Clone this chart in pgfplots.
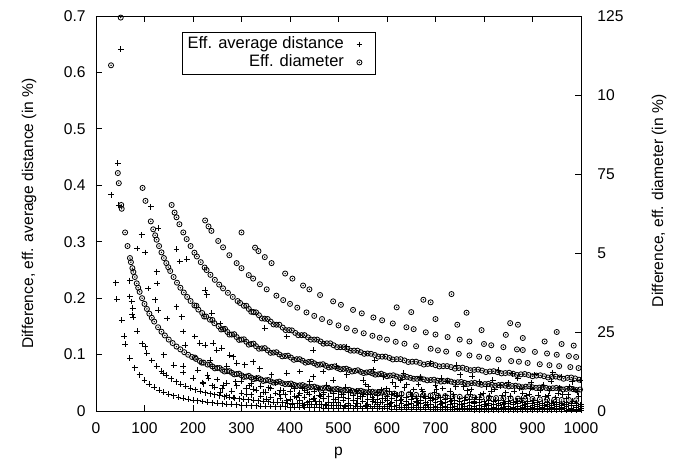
\documentclass[border=0pt]{standalone}
\usepackage{fontspec}
\setmainfont{Liberation Sans}
\usepackage{pgfplots}
\pgfplotsset{compat=1.18}
\pgfdeclareplotmark{odotmark}{%
  \pgfpathcircle{\pgfpointorigin}{\pgfplotmarksize}\pgfusepathqstroke
  \pgfpathcircle{\pgfpointorigin}{0.3\pgfplotmarksize}\pgfusepathqfill}
\pgfplotsset{
  plusstyle/.style={only marks, mark=+, mark size=1.95pt, line width=0.6pt, black},
  circstyle/.style={only marks, mark=odotmark, mark size=1.7pt, line width=0.55pt, black},
}
\begin{document}
\fontsize{10.4pt}{12.5pt}\selectfont
\begin{tikzpicture}
\useasboundingbox (-64pt,-36.67pt) rectangle (396.67pt,274pt);
\begin{axis}[
  scale only axis, width=323.33pt, height=263.33pt,
  xmin=0, xmax=1000, ymin=0, ymax=0.7,
  xtick={0,100,200,300,400,500,600,700,800,900,1000},
  ytick={0,0.1,0.2,0.3,0.4,0.5,0.6,0.7},
  xtick pos=both, ytick pos=left,
  tick align=inside, major tick length=4pt,
  /pgf/number format/1000 sep={}, /pgf/number format/assume math mode=true,
  axis line style={line width=0.6pt}, tick style={line width=0.6pt, black},
  clip=false,
  xlabel={p}, ylabel={Difference, eff. average distance (in \%)},
  every axis y label/.style={at={(axis description cs:-0.138,0.5)}, rotate=90, anchor=center},
  every axis x label/.style={at={(axis description cs:0.5,0)}, anchor=base, yshift=-29.9pt},
  yticklabel style={xshift=-3.3pt}, xticklabel style={yshift=-3.8pt},
]
% Eff. average distance (left axis)
\addplot[plusstyle] coordinates {
(60,0.1184)(70,0.0939)(80,0.0769)(90,0.0644)(100,0.055)(110,0.0477)(120,0.0419)(130,0.0371)(140,0.0332)(150,0.0299)(160,0.0272)(170,0.0248)(180,0.0228)(190,0.0210)(200,0.0195)(210,0.0181)(220,0.0168)(230,0.0158)(240,0.0148)(250,0.0139)(260,0.0131)(270,0.0124)(280,0.0117)(290,0.0111)(300,0.0106)(310,0.0101)(320,0.0096)(330,0.0092)(340,0.0088)(350,0.0084)(360,0.0080)(370,0.0078)(380,0.0074)(390,0.0072)(400,0.0069)(410,0.0066)(420,0.0064)(430,0.0062)(440,0.0059)(450,0.0058)(460,0.0056)(470,0.0054)(480,0.0052)(490,0.0051)(500,0.0049)(510,0.0048)(520,0.0046)(530,0.0045)(540,0.0044)(550,0.0043)(560,0.0041)(570,0.0040)(580,0.0040)(590,0.0039)(600,0.0037)(610,0.0036)(620,0.0036)(630,0.0035)(640,0.0034)(650,0.0033)(660,0.0032)(670,0.0032)(680,0.0031)(690,0.0030)(700,0.0030)(710,0.0029)(720,0.0029)(730,0.0028)(740,0.0028)(750,0.0027)(760,0.0026)(770,0.0026)(780,0.0025)(790,0.0025)(800,0.0024)(810,0.0024)(820,0.0024)(830,0.0023)(840,0.0023)(850,0.0022)(860,0.0022)(870,0.0021)(880,0.0021)(890,0.0021)(900,0.0020)(910,0.0020)(920,0.0020)(930,0.0019)(940,0.0019)(950,0.0019)(960,0.0019)(970,0.0018)(980,0.0018)(990,0.0018)(1000,0.0018)
(75,0.1708)(85,0.1413)(95,0.1194)(105,0.1027)(115,0.0895)(125,0.0790)(135,0.0703)(145,0.0631)(155,0.0571)(165,0.0520)(175,0.0476)(185,0.0438)(195,0.0405)(205,0.0376)(215,0.0349)(225,0.0326)(235,0.0306)(245,0.0287)(255,0.0271)(265,0.0255)(275,0.0241)(285,0.0228)(295,0.0217)(305,0.0206)(315,0.0197)(325,0.0188)(335,0.0180)(345,0.0172)(355,0.0164)(365,0.0158)(375,0.0152)(385,0.0146)(395,0.0140)(405,0.0135)(415,0.0130)(425,0.0125)(435,0.0121)(445,0.0117)(455,0.0113)(465,0.0109)(475,0.0106)(485,0.0103)(495,0.0100)(505,0.0097)(515,0.0094)(525,0.0091)(535,0.0089)(545,0.0087)(555,0.0084)(565,0.0081)(575,0.0080)(585,0.0078)(595,0.0076)(605,0.0074)(615,0.0072)(625,0.0070)(635,0.0069)(645,0.0067)(655,0.0065)(665,0.0064)(675,0.0063)(685,0.0061)(695,0.0060)(705,0.0059)(715,0.0058)(725,0.0057)(735,0.0056)(745,0.0054)(755,0.0053)(765,0.0052)(775,0.0051)(785,0.0050)(795,0.0049)(805,0.0048)(815,0.0047)(825,0.0047)(835,0.0046)(845,0.0045)(855,0.0044)(865,0.0043)(875,0.0042)(885,0.0042)(895,0.0041)(905,0.0040)(915,0.0040)(925,0.0039)(935,0.0039)(945,0.0038)(955,0.0037)(965,0.0037)(975,0.0036)(985,0.0036)(995,0.0035)
(140,0.0997)(160,0.0815)(180,0.0683)(200,0.0584)(220,0.0505)(240,0.0444)(260,0.0394)(280,0.0351)(300,0.0317)(320,0.0289)(340,0.0264)(360,0.0241)(380,0.0223)(400,0.0206)(420,0.0191)(440,0.0178)(460,0.0167)(480,0.0157)(500,0.0147)(520,0.0139)(540,0.0132)(560,0.0124)(580,0.0119)(600,0.0112)(620,0.0107)(640,0.0102)(660,0.0097)(680,0.0092)(700,0.0089)(720,0.0086)(740,0.0083)(760,0.0079)(780,0.0076)(800,0.0073)(820,0.0071)(840,0.0068)(860,0.0066)(880,0.0063)(900,0.0061)(920,0.0059)(940,0.0058)(960,0.0056)(980,0.0054)(1000,0.0053)
(210,0.0724)(230,0.0631)(250,0.0557)(270,0.0495)(290,0.0444)(310,0.0403)(330,0.0367)(350,0.0337)(370,0.0310)(390,0.0286)(410,0.0264)(430,0.0246)(450,0.0231)(470,0.0216)(490,0.0202)(510,0.0191)(530,0.0180)(550,0.0172)(570,0.0161)(590,0.0154)(610,0.0145)(630,0.0139)(650,0.0132)(670,0.0128)(690,0.0121)(710,0.0117)(730,0.0112)(750,0.0108)(770,0.0103)(790,0.0099)(810,0.0095)(830,0.0092)(850,0.0088)(870,0.0086)(890,0.0084)(910,0.0079)(930,0.0077)(950,0.0075)(970,0.0073)(990,0.0070)
(300,0.0528)(320,0.0481)(340,0.0440)(360,0.0402)(380,0.0371)(400,0.0344)(420,0.0319)(440,0.0297)(460,0.0278)(480,0.0261)(500,0.0245)(520,0.0231)(540,0.0220)(560,0.0206)(580,0.0198)(600,0.0187)(620,0.0179)(640,0.0171)(660,0.0162)(680,0.0154)(700,0.0149)(720,0.0143)(740,0.0138)(760,0.0132)(780,0.0127)(800,0.0121)(820,0.0118)(840,0.0113)(860,0.0110)(880,0.0105)(900,0.0102)(920,0.0099)(940,0.0096)(960,0.0094)(980,0.0091)(1000,0.0088)
(410,0.0396)(430,0.0370)(450,0.0347)(470,0.0323)(490,0.0304)(510,0.0287)(530,0.0271)(550,0.0257)(570,0.0241)(590,0.0231)(610,0.0218)(630,0.0208)(650,0.0198)(670,0.0191)(690,0.0182)(710,0.0175)(730,0.0168)(750,0.0162)(770,0.0155)(790,0.0149)(810,0.0142)(830,0.0139)(850,0.0132)(870,0.0129)(890,0.0125)(910,0.0119)(930,0.0116)(950,0.0112)(970,0.0109)(990,0.0106)
(500,0.0343)(520,0.0323)(540,0.0308)(560,0.0289)(580,0.0277)(600,0.0262)(620,0.0250)(640,0.0239)(660,0.0227)(680,0.0216)(700,0.0208)(720,0.0200)(740,0.0193)(760,0.0185)(780,0.0177)(800,0.0169)(820,0.0166)(840,0.0158)(860,0.0154)(880,0.0146)(900,0.0142)(920,0.0139)(940,0.0135)(960,0.0131)(980,0.0127)(1000,0.0123)
(610,0.0290)(630,0.0277)(650,0.0264)(670,0.0255)(690,0.0242)(710,0.0233)(730,0.0224)(750,0.0216)(770,0.0207)(790,0.0198)(810,0.0189)(830,0.0185)(850,0.0176)(870,0.0172)(890,0.0167)(910,0.0158)(930,0.0154)(950,0.0150)(970,0.0145)(990,0.0141)
(31,0.383)(41,0.227)(43,0.198)(45,0.439)(47,0.365)(51,0.641)(53,0.161)(58,0.133)(70,0.203)(70,0.231)(73.5,0.194)(75.6,0.182)(77,0.166)(85,0.288)(94,0.312)(101,0.281)(102,0.114)(108,0.217)(113,0.362)(122,0.197)(125,0.247)(126,0.226)(128.5,0.324)(128.5,0.179)(139,0.067)(147,0.164)(166,0.287)(166,0.185)(173,0.265)(176.6,0.167)(180,0.141)(180,0.079)(183.5,0.117)(187,0.269)(204,0.132)(214,0.12)(221,0.048)(225,0.214)(225,0.117)(228,0.206)(235,0.09)(238.5,0.173)(242,0.12)(245,0.042)(249,0.108)(256,0.155)(256,0.033)(259,0.111)(269.5,0.079)(269.5,0.027)(276,0.099)(283,0.096)(283,0.024)(290,0.085)(307,0.082)(310.6,0.030)(324,0.087)(324,0.039)(338,0.075)(345,0.033)(348,0.147)(352,0.021)(362,0.064)(379,0.030)(393,0.132)(393,0.067)(393,0.018)(414,0.024)(420,0.07)(435,0.015)(448,0.108)(448,0.061)(448,0.021)(468,0.07)(469,0.030)(489,0.055)(490,0.015)(496,0.079)(510,0.024)(517,0.114)(517,0.064)(531,0.018)(551,0.055)(551,0.030)(562,0.043)(572,0.073)(572,0.021)(575,0.09)(586,0.015)(592,0.061)(605,0.035)(612,0.051)(622,0.028)(634,0.067)(641,0.047)(655,0.038)(665,0.047)(678,0.026)(689,0.085)(698,0.033)(700,0.046)(715,0.040)(724,0.053)(738,0.029)(744,0.081)(751,0.064)(758,0.043)(765,0.036)(782,0.024)(790,0.052)(798,0.031)(806,0.043)(822,0.038)(830,0.072)(838,0.027)(850,0.050)(862,0.035)(870,0.058)(878,0.022)(880,0.031)(895,0.040)(905,0.064)(912,0.028)(922,0.046)(935,0.036)(939,0.053)(948,0.024)(953,0.031)(960,0.061)(962,0.030)(977,0.043)(985,0.038)(995,0.026)(998,0.055)
(232,0.058)(262,0.046)(288,0.052)(316,0.045)(331,0.058)(356,0.041)(371,0.050)(386,0.036)(402,0.044)(425,0.040)(441,0.052)(458,0.038)(476,0.046)(499,0.035)(515,0.042)(538,0.036)(556,0.047)(580,0.033)(598,0.040)(618,0.044)(648,0.032)(672,0.038)(706,0.027)(730,0.035)(772,0.030)(812,0.026)(845,0.032)(888,0.027)(926,0.025)(970,0.022)
(405,0.012)(418,0.028)(427,0.009)(436,0.033)(452,0.017)(463,0.026)(474,0.011)(483,0.036)(494,0.020)(506,0.029)(513,0.008)(524,0.033)(536,0.014)(545,0.025)(557,0.010)(566,0.030)(577,0.016)(588,0.038)(596,0.022)(607,0.013)(616,0.031)(627,0.019)(636,0.041)(644,0.011)(653,0.026)(662,0.016)(674,0.034)(683,0.012)(693,0.022)(702,0.039)(713,0.014)(721,0.027)(733,0.018)(742,0.043)(753,0.011)(762,0.024)(774,0.038)(781,0.015)(793,0.029)(803,0.012)(815,0.035)(824,0.019)(833,0.045)(843,0.013)(854,0.026)(866,0.017)(874,0.040)(884,0.012)(893,0.030)(903,0.018)(916,0.037)(924,0.010)(933,0.027)(944,0.015)(956,0.041)(966,0.012)(974,0.029)(983,0.017)(992,0.034)(999,0.011)
(628,0.055)(668,0.060)(712,0.058)(776,0.062)(818,0.055)(858,0.066)(897,0.050)(942,0.068)(982,0.052)
};
\end{axis}
\begin{axis}[
  scale only axis, width=323.33pt, height=263.33pt,
  xmin=0, xmax=1000, ymin=0, ymax=12.5,
  axis x line=none, axis y line*=right,
  ytick={0,2.5,5,7.5,10,12.5}, yticklabels={0,25,5,75,10,125},
  tick align=inside, major tick length=4pt,
  axis line style={line width=0.6pt}, tick style={line width=0.6pt, black},
  clip=false,
  ylabel={Difference, eff. diameter (in \%)},
  every axis y label/.style={at={(axis description cs:1.161,0.532)}, rotate=90, anchor=center},
  yticklabel style={xshift=7.3pt},
  legend style={at={(0.1773,0.9595)}, anchor=north west, draw=black, line width=0.6pt,
    font=\fontsize{11pt}{13pt}\selectfont,
    inner sep=2pt, row sep=0pt,
    nodes={inner xsep=1.5pt, inner ysep=1pt, text height=7.7pt, text depth=2.3pt}},
  legend cell align=right, legend plot pos=right,
  legend image code/.code={\path (0cm,0cm) (0.6cm,0cm); \draw[#1] plot coordinates {(0.3cm,0cm)};},
]
\addlegendimage{plusstyle}
\addlegendentry{Eff. average distance}
% Eff. diameter (right axis)
\addplot[circstyle] coordinates {
(31,10.94)(45,7.53)(47,7.21)(52,6.52)(53,6.40)(60,5.65)(65,5.22)(70,4.84)(72,4.71)(75,4.52)(77,4.40)(80,4.24)(84,4.04)(87,3.90)(90,3.77)(95,3.57)(100,3.39)(105,3.23)(110,3.08)(115,2.95)(120,2.83)(128,2.65)(135,2.51)(142,2.39)(150,2.26)(158,2.15)(166,2.04)(174,1.95)(182,1.86)(190,1.78)(198,1.71)(206,1.65)(214,1.58)(222,1.53)(230,1.47)(240,1.41)(250,1.36)(260,1.30)(270,1.26)(280,1.21)(290,1.17)(300,1.13)(310,1.09)(320,1.06)(330,1.03)(340,1.00)(350,0.97)(360,0.94)(372,0.91)(384,0.88)(396,0.86)(408,0.83)(420,0.81)(432,0.78)(444,0.76)(456,0.74)(468,0.72)(480,0.71)(492,0.69)(504,0.67)(516,0.66)(528,0.64)(540,0.63)(552,0.61)(564,0.60)(576,0.59)(588,0.58)(600,0.565)(615,0.55)(630,0.54)(645,0.53)(660,0.51)(675,0.50)(690,0.49)(705,0.48)(720,0.47)(735,0.46)(750,0.45)(765,0.44)(780,0.43)(795,0.43)(810,0.42)(825,0.41)(840,0.40)(855,0.40)(870,0.39)(885,0.38)(900,0.38)(915,0.37)(930,0.36)(945,0.36)(960,0.35)(975,0.35)(990,0.34)
(204,1.69)(218,1.53)(235,1.47)(245,1.35)(255,1.36)(265,1.25)(275,1.26)(285,1.16)(295,1.18)(305,1.08)(315,1.11)(325,1.01)(335,1.04)(345,0.95)(355,0.98)(366,0.90)(378,0.93)(390,0.85)(402,0.87)(414,0.80)(426,0.82)(438,0.75)(450,0.77)(462,0.71)(474,0.74)(486,0.68)(498,0.70)(510,0.64)(522,0.67)(534,0.61)(546,0.64)(558,0.59)(570,0.61)(582,0.56)(594,0.59)
(51,12.45)(96,7.06)(102,6.65)(113,6.00)(118,5.75)(122,5.56)(125,5.42)(130,5.22)(135,5.02)(140,4.84)(145,4.68)(149,4.55)(153,4.43)(160,4.24)(167,4.06)(174,3.90)(181,3.75)(188,3.61)(195,3.48)(203,3.34)(211,3.21)(219,3.10)(227,2.99)(235,2.89)(244,2.78)(253,2.68)(262,2.59)(271,2.50)(280,2.42)(290,2.34)(300,2.26)(310,2.19)(320,2.12)(330,2.05)(342,1.98)(354,1.92)(366,1.85)(378,1.79)(390,1.74)(402,1.69)(414,1.64)(426,1.59)(438,1.55)(450,1.51)(462,1.47)(474,1.43)(486,1.40)(498,1.36)(510,1.33)(522,1.30)(534,1.27)(546,1.24)(558,1.22)(570,1.19)(582,1.16)(594,1.14)(606,1.12)(620,1.09)(634,1.07)(648,1.05)(662,1.02)(676,1.00)(690,0.98)(704,0.96)(718,0.94)(732,0.93)(746,0.91)(760,0.89)(774,0.88)(788,0.86)(802,0.85)(816,0.83)(830,0.82)(844,0.80)(858,0.79)(872,0.78)(886,0.77)(900,0.75)(914,0.74)(928,0.73)(942,0.72)(956,0.71)(970,0.70)(984,0.69)(998,0.68)
(207,3.33)(223,2.99)(240,2.88)(258,2.58)(266,2.60)(275,2.42)(285,2.43)(295,2.25)(305,2.27)(315,2.10)(325,2.13)(336,1.97)(348,1.99)(360,1.84)(372,1.86)(384,1.73)(396,1.75)(408,1.62)(420,1.64)(432,1.53)(444,1.56)(456,1.46)(468,1.48)(480,1.38)(492,1.41)(504,1.32)(516,1.34)(528,1.25)(540,1.29)(552,1.20)(564,1.23)(576,1.15)(588,1.18)(600,1.10)(613,1.13)(627,1.06)(641,1.08)(655,1.02)(669,1.03)(683,0.97)(697,0.99)(711,0.93)(725,0.96)(739,0.90)(753,0.92)(767,0.86)(781,0.89)(795,0.83)(809,0.86)(823,0.80)(837,0.83)(851,0.78)(865,0.80)(879,0.75)(893,0.78)(907,0.73)(921,0.76)(935,0.71)(949,0.73)(963,0.68)(977,0.71)(991,0.66)
(156,6.52)(162,6.28)(166,6.13)(172,5.91)(180,5.65)(187,5.44)(195,5.22)(203,5.01)(208,4.89)(216,4.71)(224,4.54)(228,4.46)(236,4.31)(245,4.15)(254,4.00)(262,3.88)(272,3.74)(282,3.61)(292,3.48)(297,3.42)(305,3.33)(315,3.23)(325,3.13)(336,3.03)(348,2.92)(360,2.83)(372,2.73)(385,2.64)(398,2.56)(411,2.47)(424,2.40)(437,2.33)(450,2.26)(463,2.20)(476,2.14)(490,2.08)(504,2.02)(518,1.96)(532,1.91)(546,1.86)(560,1.82)(575,1.77)(590,1.72)(605,1.68)(620,1.64)(636,1.60)(652,1.56)(668,1.52)(684,1.49)(700,1.45)(716,1.42)(732,1.39)(748,1.36)(764,1.33)(780,1.30)(796,1.28)(812,1.25)(828,1.23)(844,1.20)(860,1.18)(876,1.16)(892,1.14)(908,1.12)(924,1.10)(940,1.08)(956,1.06)(972,1.05)(988,1.03)
(310,3.33)(320,3.14)(330,3.12)(342,2.93)(354,2.91)(366,2.74)(378,2.73)(391,2.56)(404,2.55)(417,2.40)(430,2.40)(443,2.26)(456,2.26)(469,2.13)(483,2.14)(497,2.02)(511,2.02)(525,1.91)(539,1.91)(553,1.81)(567,1.81)(582,1.72)(597,1.72)(612,1.63)(628,1.64)(644,1.55)(660,1.56)(676,1.47)(692,1.49)(708,1.41)(724,1.42)(740,1.34)(756,1.37)(772,1.29)(788,1.31)(804,1.23)(820,1.26)(836,1.19)(852,1.21)(868,1.14)(884,1.17)(900,1.10)(916,1.13)(932,1.06)(948,1.09)(964,1.02)(980,1.06)(996,0.99)
(225,6.03)(232,5.84)(238,5.70)(252,5.38)(262,5.18)(275,4.93)(290,4.68)(300,4.52)(315,4.30)(324,4.19)(338,4.01)(352,3.85)(372,3.65)(386,3.51)(400,3.39)(415,3.27)(434,3.12)(450,3.01)(466,2.91)(482,2.81)(500,2.71)(517,2.62)(534,2.54)(552,2.46)(570,2.38)(585,2.32)(600,2.26)(618,2.19)(636,2.13)(660,2.05)(690,1.97)(705,1.92)(722,1.88)(748,1.81)(770,1.76)(790,1.72)(808,1.68)(830,1.63)(856,1.58)(872,1.56)(890,1.52)(915,1.48)(935,1.45)(955,1.42)(978,1.39)(995,1.36)
(300,5.65)(328,5.17)(335,5.06)(348,4.87)(362,4.68)(390,4.35)(405,4.19)(427,3.97)(440,3.85)(462,3.67)(489,3.47)(505,3.36)(530,3.20)(548,3.09)(572,2.96)(590,2.87)(612,2.77)(640,2.65)(655,2.59)(680,2.49)(700,2.42)(725,2.34)(750,2.26)(770,2.20)(800,2.12)(815,2.08)(840,2.02)(868,1.95)(880,1.93)(905,1.87)(930,1.82)(950,1.78)(975,1.74)(990,1.71)
(620,3.28)(650,3.13)(700,2.91)(745,2.73)(795,2.56)(845,2.41)(880,2.31)(925,2.20)(960,2.12)(985,2.07)
(675,3.52)(690,3.44)(764,3.11)(854,2.78)(870,2.73)(950,2.50)(733,3.70)
};
\addlegendentry{Eff. diameter}
\end{axis}
\end{tikzpicture}
\end{document}
